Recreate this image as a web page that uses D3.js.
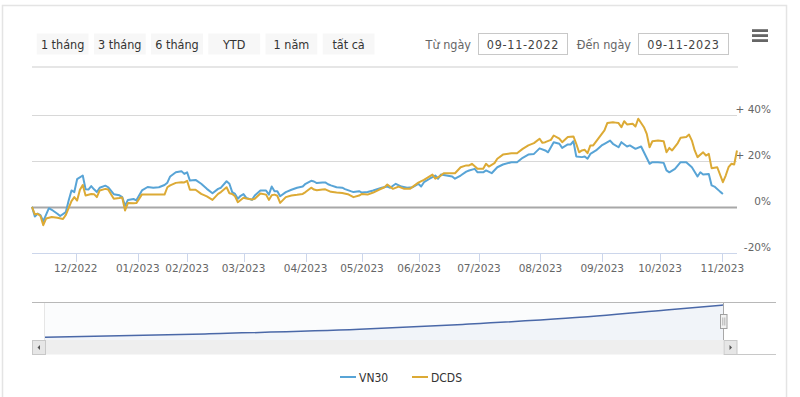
<!DOCTYPE html>
<html><head><meta charset="utf-8">
<script src="https://cdn.jsdelivr.net/npm/d3@7"></script>
<style>
body{margin:0;background:#fff;}
svg{display:block;}
.ui{font-family:"DejaVu Sans Condensed","DejaVu Sans",sans-serif;font-stretch:condensed;}
.ax{font-family:"DejaVu Sans",sans-serif;}
</style>
</head><body>
<div id="chart"></div>
<script>
// ---------- data ----------
const rangeButtons = ["1 tháng", "3 tháng", "6 tháng", "YTD", "1 năm", "tất cả"];
const fromLabel = "Từ ngày", toLabel = "Đến ngày";
const fromDate = "09-11-2022", toDate = "09-11-2023";
const seriesNames = ["VN30", "DCDS"];
const seriesColors = ["#58a4d6", "#dcaa35"];
const monthLabels = ["12/2022","01/2023","02/2023","03/2023","04/2023","05/2023","06/2023","07/2023","08/2023","09/2023","10/2023","11/2023"];
const monthSessions = [15.5, 37.5, 55, 75, 97, 117, 137.3, 158.5, 180.3, 202.2, 222.7, 244.8];
const yTicks = [-20, 0, 20, 40];
// [trading session index, % change]
const vn30 = [[0,0],[1,-4.2],[2,-3.0],[3,-3.6],[4,-6.2],[6,-0.6],[7,-1.3],[9,-3.0],[10,-4.0],[12,-2.3],[13,2.7],[14,7.1],[15,6.4],[16,12.0],[18,13.6],[19,7.6],[20,7.5],[21,9.0],[22,7.6],[23,6.4],[24,8.3],[26,9.2],[27,8.5],[29,5.5],[31,5.0],[32,4.2],[33,0.4],[34,3.0],[36,3.4],[37,2.8],[39,7.1],[41,8.6],[43,8.3],[45,8.5],[47,9.5],[48,10.5],[49,13.2],[51,15.0],[53,15.5],[54,14.3],[55,15.0],[56,11.4],[58,11.7],[60,10.0],[62,7.8],[64,5.9],[66,7.8],[67,8.3],[69,11.1],[70,10.0],[71,6.4],[72,5.6],[73,3.5],[74,4.8],[75,5.5],[76,3.9],[78,3.0],[79,4.9],[81,7.1],[83,7.1],[84,5.3],[85,8.8],[86,6.8],[87,6.8],[88,4.6],[90,6.4],[92,7.4],[94,8.3],[96,8.8],[97,10.0],[99,11.3],[100,11.0],[101,10.3],[103,10.6],[104,10.6],[105,9.8],[106,9.3],[108,8.5],[110,8.3],[111,7.7],[113,6.8],[114,6.4],[116,6.8],[117,6.2],[119,6.4],[121,7.1],[124,8.3],[126,8.8],[127,8.3],[129,10.0],[131,8.8],[133,8.3],[135,8.5],[137,10.0],[138,8.8],[139,10.7],[141,12.2],[143,13.6],[144,12.2],[145,14.0],[147,13.6],[149,13.2],[150,12.2],[152,13.6],[154,15.3],[155,15.8],[157,16.5],[158,15.0],[160,15.0],[161,15.8],[163,14.6],[165,17.2],[167,18.4],[170,19.4],[172,19.4],[174,21.3],[176,22.7],[178,23.0],[180,25.4],[182,24.5],[183,23.7],[185,28.1],[187,27.4],[188,25.6],[190,27.1],[191,27.1],[192,28.5],[193,21.9],[195,21.6],[196,21.9],[197,20.9],[198,23.0],[200,24.5],[202,26.7],[203,27.4],[205,28.8],[206,27.4],[208,25.9],[209,28.1],[211,26.2],[212,26.7],[214,25.2],[216,26.2],[217,23.7],[219,18.7],[220,19.4],[222,19.4],[224,19.1],[225,15.8],[226,15.0],[228,16.5],[230,19.4],[232,19.4],[234,17.2],[236,13.2],[237,15.0],[238,14.0],[240,14.3],[241,9.3],[242,8.8],[244,6.6],[245,5.6]];
const dcds = [[0,0],[1,-3.3],[2,-3.0],[3,-4.0],[4,-8.0],[5,-5.1],[7,-4.4],[9,-4.8],[11,-5.3],[12,-3.5],[14,2.5],[15,4.2],[16,2.7],[17,7.4],[18,9.5],[19,4.9],[21,5.6],[22,5.5],[23,4.2],[24,7.1],[26,7.8],[27,7.5],[29,3.5],[31,3.8],[32,4.0],[33,-1.6],[34,1.6],[36,1.5],[37,1.6],[39,5.4],[41,5.3],[43,5.3],[47,5.3],[48,8.5],[49,9.3],[51,10.4],[53,10.7],[54,10.6],[55,11.3],[56,7.4],[58,7.4],[60,5.6],[62,4.5],[64,3.0],[66,5.6],[67,6.4],[69,8.5],[70,5.9],[71,5.6],[72,4.6],[73,2.0],[75,3.9],[76,3.6],[78,3.2],[79,3.5],[81,5.8],[83,5.3],[84,3.0],[85,5.0],[86,5.3],[87,4.8],[88,1.7],[90,4.2],[92,4.9],[94,5.2],[96,5.6],[97,6.4],[99,8.3],[100,7.5],[101,7.2],[103,7.5],[104,7.6],[106,6.5],[108,6.2],[110,6.0],[112,5.5],[114,4.2],[116,4.9],[117,5.6],[119,5.3],[121,6.2],[123,7.4],[125,8.5],[126,9.7],[128,7.8],[130,8.8],[132,7.8],[134,7.8],[137,10.5],[139,11.7],[142,14.0],[143,12.2],[145,13.6],[146,14.6],[150,14.6],[152,17.2],[154,18.0],[155,18.0],[156,18.7],[158,16.5],[160,16.5],[161,18.7],[162,17.5],[164,19.0],[165,20.9],[167,22.7],[170,23.3],[172,23.3],[174,25.2],[176,26.7],[178,27.7],[180,29.6],[181,27.8],[182,28.1],[184,29.1],[185,31.0],[187,29.6],[188,28.1],[190,30.3],[192,30.6],[193,27.4],[194,23.7],[195,24.5],[196,24.8],[197,23.3],[198,26.7],[199,26.7],[201,30.0],[203,33.2],[204,36.4],[206,36.8],[207,36.6],[208,36.4],[209,34.6],[210,37.2],[211,35.8],[213,36.1],[214,34.9],[215,38.3],[217,34.6],[218,31.7],[219,25.9],[220,28.5],[222,28.8],[224,28.5],[225,23.7],[226,25.6],[227,24.5],[229,27.7],[230,30.0],[232,30.3],[233,31.4],[234,28.8],[235,24.5],[236,21.6],[238,23.7],[239,22.3],[240,23.0],[241,16.8],[243,17.2],[245,10.7],[246,13.6],[247,17.2],[248,18.7],[249,18.4],[250,24.5]];
// navigator series [session, value]
const navSeries = [[0,7],[59,16],[116,28],[154,41],[192,57],[229,79],[250,92]];

// ---------- layout ----------
const W = 800, H = 397;
const svg = d3.select("#chart").append("svg").attr("width", W).attr("height", H);

// outer frame
svg.append("rect").attr("x", 2.5).attr("y", 5.5).attr("width", 784).attr("height", 400)
  .attr("fill", "#fff").attr("stroke", "#e4e4e4").attr("stroke-width", 1.5);

// range selector buttons
const btnX = d3.scaleBand().domain(rangeButtons).range([36.7, 374.5]).paddingInner(0.094);
const btn = svg.append("g").attr("class", "ui");
btn.selectAll("rect").data(rangeButtons).join("rect")
  .attr("x", d => btnX(d)).attr("y", 33.5).attr("width", btnX.bandwidth()).attr("height", 21)
  .attr("fill", "#f7f7f7");
btn.selectAll("text").data(rangeButtons).join("text")
  .attr("x", d => btnX(d) + btnX.bandwidth() / 2).attr("y", 48.5)
  .attr("text-anchor", "middle").attr("font-size", 12.5).attr("fill", "#333").text(d => d);

// date inputs
const inp = svg.append("g").attr("class", "ui").attr("font-size", 12.5);
inp.append("text").attr("x", 471).attr("y", 48.5).attr("text-anchor", "end").attr("fill", "#666").text(fromLabel);
inp.append("rect").attr("x", 478.5).attr("y", 33.5).attr("width", 89).attr("height", 21).attr("fill", "#fff").attr("stroke", "#c8c8c8");
inp.append("text").attr("x", 523).attr("y", 48.5).attr("text-anchor", "middle").attr("fill", "#444").attr("letter-spacing", 0.7).text(fromDate);
inp.append("text").attr("x", 631).attr("y", 48.5).attr("text-anchor", "end").attr("fill", "#666").text(toLabel);
inp.append("rect").attr("x", 638.5).attr("y", 33.5).attr("width", 90).attr("height", 21).attr("fill", "#fff").attr("stroke", "#c8c8c8");
inp.append("text").attr("x", 683.5).attr("y", 48.5).attr("text-anchor", "middle").attr("fill", "#444").attr("letter-spacing", 0.7).text(toDate);

// hamburger
[29.2, 34.2, 39.2].forEach(yy => svg.append("rect").attr("x", 752).attr("y", yy).attr("width", 16).attr("height", 2.8).attr("fill", "#666"));

// separator
svg.append("line").attr("x1", 32).attr("x2", 738).attr("y1", 67).attr("y2", 67).attr("stroke", "#dedede").attr("stroke-width", 1.5);

// scales
const x = d3.scaleLinear().domain([0, 250]).range([32, 737]);
const y = d3.scaleLinear().domain([-20, 40]).range([252.8, 114.8]);

// grid
const grid = svg.append("g");
grid.selectAll("line").data(yTicks).join("line")
  .attr("x1", 32).attr("x2", 737)
  .attr("y1", d => Math.round(y(d)) + 0.5).attr("y2", d => Math.round(y(d)) + 0.5)
  .attr("stroke", d => d === 0 ? "#a8a8a8" : (d === -20 ? "#ccd6eb" : "#d8d8d8"))
  .attr("stroke-width", d => d === 0 ? 2 : 1.2);

// y labels
svg.append("g").attr("class", "ax").selectAll("text").data(yTicks).join("text")
  .attr("x", 771).attr("y", d => y(d) - 1.5).attr("text-anchor", "end")
  .attr("font-size", 10.5).attr("fill", "#666")
  .text(d => d > 0 ? "+ " + d + "%" : d + "%");

// x axis ticks
const xa = svg.append("g").attr("class", "ax");
xa.selectAll("line").data(monthSessions).join("line")
  .attr("x1", d => Math.round(x(d)) + 0.5).attr("x2", d => Math.round(x(d)) + 0.5)
  .attr("y1", 253).attr("y2", 262).attr("stroke", "#ccd6eb");
xa.selectAll("text").data(monthLabels).join("text")
  .attr("x", (d, i) => x(monthSessions[i])).attr("y", 271.5).attr("text-anchor", "middle")
  .attr("font-size", 10.5).attr("fill", "#666").text(d => d);

// series
const line = d3.line().x(d => x(d[0])).y(d => y(d[1]));
[vn30, dcds].forEach((s, i) => {
  svg.append("path").datum(s).attr("d", line).attr("fill", "none")
    .attr("stroke", seriesColors[i]).attr("stroke-width", 2).attr("stroke-linejoin", "round");
});

// navigator
const nx = d3.scaleLinear().domain([0, 250]).range([45, 723]);
const ny = d3.scaleLinear().domain([0, 100]).range([340, 302]);
svg.append("rect").attr("x", 45).attr("y", 302.5).attr("width", 678).attr("height", 37.5).attr("fill", "#fbfcfd");
svg.append("path").datum(navSeries)
  .attr("d", d3.area().x(d => nx(d[0])).y0(340).y1(d => ny(d[1])).curve(d3.curveMonotoneX))
  .attr("fill", "#f1f4f9");
svg.append("path").datum(navSeries)
  .attr("d", d3.line().x(d => nx(d[0])).y(d => ny(d[1])).curve(d3.curveMonotoneX))
  .attr("fill", "none").attr("stroke", "#4a68a8").attr("stroke-width", 1.5);
svg.append("line").attr("x1", 32).attr("x2", 776).attr("y1", 302.5).attr("y2", 302.5).attr("stroke", "#b8b8b8").attr("stroke-width", 1.2);
svg.append("line").attr("x1", 44.5).attr("x2", 44.5).attr("y1", 303).attr("y2", 340).attr("stroke", "#e6e6e6");
svg.append("line").attr("x1", 723.5).attr("x2", 723.5).attr("y1", 303).attr("y2", 340).attr("stroke", "#a8a8a8");
// handle
svg.append("rect").attr("x", 720.5).attr("y", 314.5).attr("width", 6.5).attr("height", 14).attr("fill", "#f2f2f2").attr("stroke", "#a0a0a0");
[722.8, 724.8].forEach(xx => svg.append("line").attr("x1", xx).attr("x2", xx).attr("y1", 317.5).attr("y2", 325.5).attr("stroke", "#a0a0a0").attr("stroke-width", 0.8));
// scrollbar
svg.append("rect").attr("x", 45).attr("y", 340).attr("width", 678).attr("height", 14.5).attr("fill", "#eeeeee");
svg.append("line").attr("x1", 737).attr("x2", 776).attr("y1", 354.5).attr("y2", 354.5).attr("stroke", "#c8c8c8");
[[32, "l"], [723.5, "r"]].forEach(([bx, dir]) => {
  svg.append("rect").attr("x", bx + 0.5).attr("y", 340.5).attr("width", 13).attr("height", 14).attr("fill", "#e6e6e6").attr("stroke", "#c8c8c8");
  const cx = bx + 7, cy = 347.5;
  const pts = dir === "l" ? [[cx - 1.5, cy], [cx + 1, cy - 2.5], [cx + 1, cy + 2.5]] : [[cx + 1.5, cy], [cx - 1, cy - 2.5], [cx - 1, cy + 2.5]];
  svg.append("path").attr("d", d3.line()(pts) + "Z").attr("fill", "#555");
});

// legend
const lg = svg.append("g").attr("class", "ui");
const legX = d3.scaleOrdinal().domain(seriesNames).range([340, 412]);
seriesNames.forEach((n, i) => {
  lg.append("line").attr("x1", legX(n)).attr("x2", legX(n) + 16).attr("y1", 377).attr("y2", 377)
    .attr("stroke", seriesColors[i]).attr("stroke-width", 2);
  lg.append("text").attr("x", legX(n) + 19).attr("y", 381.5).attr("font-size", 12).attr("fill", "#333").text(n);
});
</script>
</body></html>
